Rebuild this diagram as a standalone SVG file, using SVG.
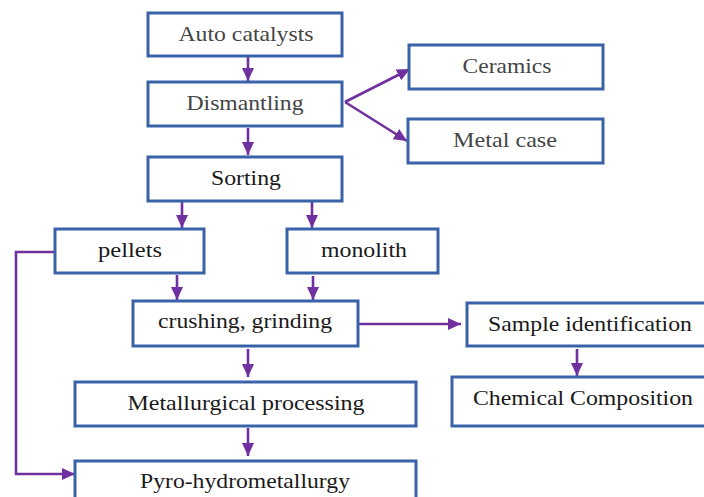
<svg xmlns="http://www.w3.org/2000/svg" width="704" height="497" viewBox="0 0 704 497">
<style>
.box{fill:#fff;stroke:#3a62a8;stroke-width:3}
.t{font-family:"Liberation Serif","Times New Roman",serif;font-size:21px;text-anchor:middle;fill:#1a1a1a}
.g{fill:#454545}
.c{fill:none;stroke:#7030a0;stroke-width:2.6;marker-end:url(#ah)}
</style>
<defs>
<marker id="ah" markerUnits="userSpaceOnUse" markerWidth="14" markerHeight="14" viewBox="0 0 14 14" refX="13" refY="7" orient="auto">
<path d="M0,1 L13,7 L0,13 Z" fill="#7030a0"/>
</marker>
</defs>
<rect width="704" height="497" fill="#fff"/>
<g id="connectors">
<line class="c" x1="248" y1="57" x2="248" y2="81"/>
<line class="c" x1="248" y1="128" x2="248" y2="155"/>
<line class="c" x1="182" y1="202" x2="182" y2="228"/>
<line class="c" x1="312" y1="202" x2="312" y2="228"/>
<line class="c" x1="177" y1="275" x2="177" y2="300"/>
<line class="c" x1="313" y1="276" x2="313" y2="300"/>
<line class="c" x1="248" y1="349" x2="248" y2="377"/>
<line class="c" x1="248" y1="428" x2="248" y2="456"/>
<line class="c" x1="359" y1="324" x2="461" y2="324"/>
<line class="c" x1="577" y1="349" x2="577" y2="376"/>
<polyline class="c" points="55,252 16,252 16,474 75,474"/>
<line class="c" x1="345" y1="102" x2="410" y2="69"/>
<line class="c" x1="345" y1="102" x2="407" y2="141"/>
</g>
<g id="auto"><rect class="box" x="148" y="13" width="194" height="43"/><text class="t g" x="246" y="41" textLength="135" lengthAdjust="spacingAndGlyphs">Auto catalysts</text></g>
<g id="dismantling"><rect class="box" x="148" y="82" width="194" height="44"/><text class="t g" x="245" y="110" textLength="117" lengthAdjust="spacingAndGlyphs">Dismantling</text></g>
<g id="ceramics"><rect class="box" x="409" y="45" width="194" height="44"/><text class="t g" x="507" y="73" textLength="89" lengthAdjust="spacingAndGlyphs">Ceramics</text></g>
<g id="metalcase"><rect class="box" x="408" y="119" width="195" height="44"/><text class="t g" x="505" y="147" textLength="104" lengthAdjust="spacingAndGlyphs">Metal case</text></g>
<g id="sorting"><rect class="box" x="148" y="157" width="194" height="44"/><text class="t" x="246" y="185" textLength="70" lengthAdjust="spacingAndGlyphs">Sorting</text></g>
<g id="pellets"><rect class="box" x="55" y="229" width="149" height="44"/><text class="t" x="130" y="257" textLength="64" lengthAdjust="spacingAndGlyphs">pellets</text></g>
<g id="monolith"><rect class="box" x="287" y="229" width="151" height="44"/><text class="t" x="364" y="257" textLength="86" lengthAdjust="spacingAndGlyphs">monolith</text></g>
<g id="crushing"><rect class="box" x="133" y="301" width="225" height="45"/><text class="t" x="245" y="328" textLength="174" lengthAdjust="spacingAndGlyphs">crushing, grinding</text></g>
<g id="sample"><rect class="box" x="467" y="303" width="245" height="43"/><text class="t" x="590" y="331" textLength="204" lengthAdjust="spacingAndGlyphs">Sample identification</text></g>
<g id="chemical"><rect class="box" x="452" y="377" width="260" height="49"/><text class="t" x="583" y="405" textLength="220" lengthAdjust="spacingAndGlyphs">Chemical Composition</text></g>
<g id="metallurgical"><rect class="box" x="75" y="382" width="341" height="44"/><text class="t" x="246" y="410" textLength="237" lengthAdjust="spacingAndGlyphs">Metallurgical processing</text></g>
<g id="pyro"><rect class="box" x="75" y="461" width="341" height="50"/><text class="t" x="245" y="488" textLength="210" lengthAdjust="spacingAndGlyphs">Pyro-hydrometallurgy</text></g>
</svg>
